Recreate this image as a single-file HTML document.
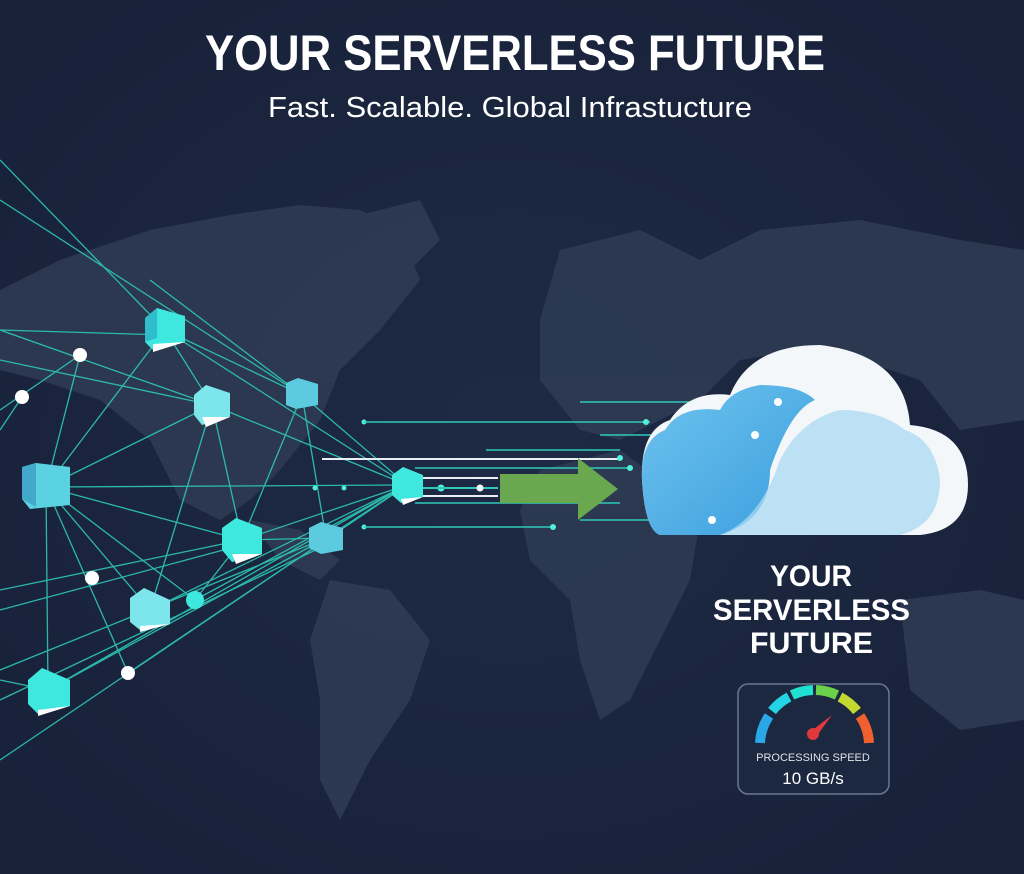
<!DOCTYPE html>
<html><head><style>
html,body{margin:0;padding:0;background:#1b2540;}
svg{display:block}
text{font-family:"Liberation Sans",sans-serif}
</style></head><body>
<svg width="1024" height="874" viewBox="0 0 1024 874" xmlns="http://www.w3.org/2000/svg">
<defs>
<radialGradient id="bg" cx="50%" cy="50%" r="70%"><stop offset="0" stop-color="#1e2a44"/><stop offset="1" stop-color="#172138"/></radialGradient>
<linearGradient id="cl1" x1="0" y1="0" x2="1" y2="1"><stop offset="0" stop-color="#6fc3ee"/><stop offset="1" stop-color="#3a9ede"/></linearGradient>
</defs>
<rect width="1024" height="874" fill="url(#bg)"/>
<g fill="#2e3b52" opacity="0.9">
<path d="M0 290 L60 260 L150 230 L230 215 L300 205 L360 210 L400 230 L420 280 L380 330 L340 370 L320 420 L280 470 L250 500 L220 520 L180 500 L150 440 L100 400 L40 380 L0 370Z"/>
<path d="M250 520 L300 530 L340 560 L320 580 L280 560Z"/>
<path d="M330 580 L390 590 L430 640 L410 700 L370 760 L340 820 L320 780 L320 700 L310 640Z"/>
<path d="M340 220 L420 200 L440 240 L400 280 L360 260Z"/>
<path d="M560 250 L640 230 L700 260 L760 230 L860 220 L960 240 L1024 250 L1024 420 L960 430 L920 380 L860 360 L800 350 L740 360 L700 400 L660 420 L620 440 L580 430 L540 380 L540 320Z"/>
<path d="M540 470 L620 450 L660 480 L700 520 L690 580 L660 640 L630 700 L600 720 L580 660 L570 600 L530 560 L520 510Z"/>
<path d="M900 600 L980 590 L1024 600 L1024 720 L960 730 L910 690Z"/>
<path d="M680 420 L740 420 L760 460 L720 480 L690 460Z"/>
</g>
<g stroke="#2ec9b7" stroke-width="1.3" fill="none" opacity="0.9">
<line x1="165" y1="330" x2="407" y2="485"/><line x1="212" y1="405" x2="407" y2="485"/><line x1="302" y1="395" x2="407" y2="485"/>
<line x1="46" y1="487" x2="407" y2="485"/><line x1="242" y1="540" x2="407" y2="485"/><line x1="326" y1="538" x2="407" y2="485"/>
<line x1="150" y1="610" x2="407" y2="485"/><line x1="48" y1="690" x2="407" y2="485"/><line x1="195" y1="600" x2="407" y2="485"/>
<line x1="128" y1="673" x2="407" y2="485"/><line x1="0" y1="760" x2="407" y2="485"/>
<line x1="0" y1="160" x2="165" y2="330"/><line x1="0" y1="330" x2="165" y2="335"/>
<line x1="0" y1="200" x2="302" y2="395"/><line x1="0" y1="360" x2="212" y2="405"/><line x1="0" y1="330" x2="212" y2="405"/>
<line x1="150" y1="280" x2="302" y2="395"/><line x1="165" y1="330" x2="302" y2="395"/><line x1="165" y1="330" x2="212" y2="405"/>
<line x1="80" y1="355" x2="46" y2="487"/><line x1="80" y1="355" x2="0" y2="410"/><line x1="22" y1="397" x2="0" y2="430"/>
<line x1="165" y1="330" x2="46" y2="487"/><line x1="212" y1="405" x2="46" y2="487"/><line x1="212" y1="405" x2="242" y2="540"/>
<line x1="212" y1="405" x2="150" y2="610"/><line x1="302" y1="395" x2="242" y2="540"/><line x1="302" y1="395" x2="326" y2="538"/>
<line x1="46" y1="487" x2="242" y2="540"/><line x1="46" y1="487" x2="48" y2="690"/><line x1="46" y1="487" x2="128" y2="673"/>
<line x1="46" y1="487" x2="195" y2="600"/><line x1="46" y1="487" x2="150" y2="610"/><line x1="242" y1="540" x2="195" y2="600"/>
<line x1="0" y1="590" x2="242" y2="540"/><line x1="0" y1="610" x2="242" y2="545"/><line x1="0" y1="670" x2="326" y2="538"/>
<line x1="48" y1="690" x2="326" y2="538"/><line x1="0" y1="680" x2="48" y2="690"/><line x1="0" y1="700" x2="326" y2="545"/>
<line x1="242" y1="540" x2="326" y2="538"/>
</g>
<g fill="#4ff0e0"><circle cx="364" cy="422" r="2.5"/><circle cx="315" cy="488" r="2.5"/><circle cx="344" cy="488" r="2.5"/><circle cx="364" cy="527" r="2.5"/><circle cx="441" cy="488" r="3.5"/></g>
<g stroke="#2ec9b7" stroke-width="1.5">
<line x1="364" y1="422" x2="650" y2="422"/><line x1="486" y1="450" x2="620" y2="450"/><line x1="415" y1="468" x2="630" y2="468"/>
<line x1="415" y1="503" x2="620" y2="503"/><line x1="364" y1="527" x2="555" y2="527"/>
<line x1="580" y1="402" x2="778" y2="402"/><line x1="600" y1="435" x2="755" y2="435"/><line x1="580" y1="520" x2="712" y2="520"/>
</g>
<g stroke="#e8eef4" stroke-width="2"><line x1="322" y1="459" x2="620" y2="459"/><line x1="420" y1="478" x2="498" y2="478"/><line x1="420" y1="496" x2="498" y2="496"/><line x1="420" y1="488" x2="498" y2="488" stroke="#2ec9b7"/></g>
<circle cx="480" cy="488" r="3.5" fill="#fff"/>
<circle cx="646" cy="422" r="3" fill="#4ff0e0"/><circle cx="620" cy="458" r="3" fill="#4ff0e0"/><circle cx="630" cy="468" r="3" fill="#4ff0e0"/><circle cx="553" cy="527" r="3" fill="#4ff0e0"/>
<path d="M500 474 L578 474 L578 458 L618 489 L578 520 L578 503 L500 503Z" fill="#6aa84f"/>
<g>
<g transform="translate(165,330)"><path d="M-20 -12 L-8 -22 L20 -14 L20 12 L-12 20 L-20 12Z" fill="#3ee8df"/><path d="M-20 -12 L-8 -22 L-8 8 L-20 12Z" fill="#2fbccc"/><path d="M-12 14 L20 12 L-12 22Z" fill="#fff"/></g>
<g transform="translate(212,405)"><path d="M-18 -10 L-6 -20 L18 -12 L18 12 L-10 20 L-18 10Z" fill="#7de6ec"/><path d="M-10 12 L18 12 L-6 22Z" fill="#fff"/></g>
<g transform="translate(302,395)"><path d="M-16 -12 L-4 -17 L16 -11 L16 10 L-6 14 L-16 10Z" fill="#5ccbe0"/></g>
<g transform="translate(46,487)"><path d="M-24 -20 L-10 -24 L24 -20 L24 18 L-16 22 L-24 12Z" fill="#5ad2e2"/><path d="M-24 -20 L-10 -24 L-10 20 L-24 12Z" fill="#42a9cc"/></g>
<g transform="translate(242,540)"><path d="M-20 -12 L-6 -22 L20 -12 L20 14 L-10 22 L-20 10Z" fill="#3ee8df"/><path d="M-10 14 L20 14 L-6 24Z" fill="#fff"/></g>
<g transform="translate(326,538)"><path d="M-17 -10 L-5 -16 L17 -10 L17 12 L-5 16 L-17 10Z" fill="#5ccbe0"/></g>
<g transform="translate(150,610)"><path d="M-20 -12 L-6 -22 L20 -10 L20 14 L-10 20 L-20 12Z" fill="#7de6ec"/><path d="M-10 16 L20 14 L-10 22Z" fill="#fff"/></g>
<g transform="translate(48,690)"><path d="M-20 -10 L-6 -22 L22 -10 L22 16 L-10 24 L-20 14Z" fill="#3ee8df"/><path d="M-10 20 L22 16 L-10 26Z" fill="#fff"/></g>
<g transform="translate(407,485)"><path d="M-15 -10 L-4 -18 L16 -10 L16 12 L-6 18 L-15 10Z" fill="#3ee8df"/><path d="M-6 14 L16 12 L-4 20Z" fill="#fff"/></g>
</g>
<g fill="#fff"><circle cx="80" cy="355" r="7"/><circle cx="22" cy="397" r="7"/><circle cx="92" cy="578" r="7"/><circle cx="128" cy="673" r="7"/></g>
<circle cx="195" cy="600" r="9" fill="#3ee8df"/>
<path d="M660 535 L920 535 Q968 530 968 485 Q968 430 910 425 Q905 355 820 345 Q750 345 730 395 Q690 390 670 420 Q640 430 642 480 Q645 530 660 535Z" fill="#f4f7fa"/>
<path d="M660 535 L720 535 Q770 520 770 470 Q790 410 815 400 Q800 385 760 385 Q730 390 720 410 Q680 405 665 430 Q640 440 642 480 Q645 530 660 535Z" fill="url(#cl1)"/>
<path d="M720 535 L900 535 Q940 525 940 480 Q935 440 905 430 Q880 410 840 410 Q800 420 780 460 Q760 520 720 535Z" fill="#aad8f2" opacity="0.75"/>
<circle cx="778" cy="402" r="4" fill="#fff"/><circle cx="755" cy="435" r="4" fill="#fff"/><circle cx="712" cy="520" r="4" fill="#fff"/>
<text x="205" y="70" font-size="50" font-weight="bold" fill="#fff" textLength="620" lengthAdjust="spacingAndGlyphs">YOUR SERVERLESS FUTURE</text>
<text x="268" y="117" font-size="29" fill="#fff" textLength="484" lengthAdjust="spacingAndGlyphs">Fast. Scalable. Global Infrastucture</text>
<g font-size="30" font-weight="bold" fill="#fff">
<text x="770" y="586" textLength="82" lengthAdjust="spacingAndGlyphs">YOUR</text>
<text x="713" y="620" textLength="197" lengthAdjust="spacingAndGlyphs">SERVERLESS</text>
<text x="750" y="653" textLength="123" lengthAdjust="spacingAndGlyphs">FUTURE</text></g>
<rect x="738" y="684" width="151" height="110" rx="10" fill="#1c2740" stroke="#6b7690" stroke-width="1.5"/>
<g fill="none" stroke-width="10">
<path d="M760 743 A53 53 0 0 1 769 716" stroke="#2aa7e6"/>
<path d="M772 711 A53 53 0 0 1 789 697" stroke="#22d4e6"/>
<path d="M792 695 A53 53 0 0 1 813 690" stroke="#20e0d2"/>
<path d="M816 690 A53 53 0 0 1 837 695" stroke="#6bd04a"/>
<path d="M840 697 A53 53 0 0 1 857 711" stroke="#c4d630"/>
<path d="M860 716 A53 53 0 0 1 869 743" stroke="#f0602e"/>
</g>
<circle cx="813" cy="734" r="6" fill="#e0383c"/><path d="M810 732 L832 715 L816 737Z" fill="#e0383c"/>
<text x="813" y="761" text-anchor="middle" font-size="11" fill="#dde3ea">PROCESSING SPEED</text>
<text x="813" y="784" text-anchor="middle" font-size="17" fill="#fff">10 GB/s</text>
</svg>
</body></html>
